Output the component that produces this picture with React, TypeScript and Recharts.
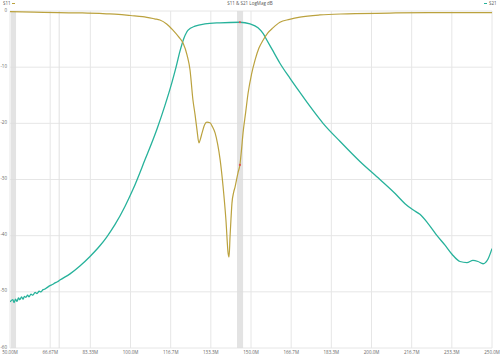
import React from "react";
import { LineChart, Line, XAxis, YAxis, CartesianGrid, ReferenceArea, ReferenceLine, ReferenceDot } from "recharts";

const xTicks = [50, 66.67, 83.33, 100, 116.67, 133.33, 150, 166.67, 183.33, 200, 216.67, 233.33, 250];
const xTickLabels = ["50.00M", "66.67M", "83.33M", "100.0M", "116.7M", "133.3M", "150.0M", "166.7M", "183.3M", "200.0M", "216.7M", "233.3M", "250.0M"];
const yTicks = [0, -10, -20, -30, -40, -50, -60];

const s11Freq = [50, 60, 70, 80, 90, 95, 100, 105, 110, 112.2, 115, 117.6, 120, 121.8, 123.5, 124.7, 125.9, 126.8, 127.6, 128.4, 129.0, 129.7, 130.7, 131.7, 133.0, 134.0, 135.1, 136.2, 137.2, 138.4, 139.6, 140.5, 140.9, 141.3, 141.7, 142.1, 142.8, 143.4, 144.6, 145.4, 146.0, 146.7, 147.8, 148.8, 150.2, 151.7, 153.3, 155.0, 157.0, 159.1, 162.0, 166.0, 170.3, 178.6, 190, 210, 230, 250];
const s11Db = [-0.1, -0.2, -0.3, -0.35, -0.5, -0.6, -0.8, -1.0, -1.4, -1.6, -2.3, -3.4, -4.6, -5.7, -7.9, -10.5, -15.8, -18.5, -21.2, -23.5, -22.8, -21.7, -20.3, -19.8, -19.9, -20.6, -21.7, -23.8, -26.5, -31.2, -37.2, -43.1, -43.8, -40.2, -37.0, -34.2, -32.3, -31.3, -28.8, -27.4, -25.0, -21.7, -18.0, -14.6, -11.3, -8.7, -6.6, -5.2, -3.9, -3.0, -2.0, -1.5, -1.1, -0.7, -0.5, -0.35, -0.3, -0.3];

const s21Freq = [50, 51.2, 51.7, 52.3, 52.9, 53.5, 54.1, 54.8, 55.4, 56.0, 56.6, 57.3, 57.9, 58.7, 59.5, 60.4, 61.2, 62.1, 62.9, 63.7, 64.5, 65.5, 66.6, 67.6, 68.7, 69.7, 70.7, 74.9, 79.0, 83.2, 87.3, 90.2, 93.6, 97.7, 101.0, 106.0, 111.0, 114.3, 117.2, 118.9, 120.5, 122.2, 123.9, 126.8, 130.9, 137.1, 145.4, 149.6, 152.9, 155.0, 156.6, 158.7, 162.0, 166.2, 170.3, 174.5, 179.9, 186.9, 195.2, 203.5, 209.8, 213.9, 217.2, 220.1, 223.4, 227.2, 230.5, 233.4, 236.7, 239.6, 242.1, 244.2, 246.3, 248.3, 250];
const s21Db = [-51.8, -51.4, -51.9, -51.3, -51.7, -51.1, -51.4, -50.9, -51.3, -50.8, -51.0, -50.6, -50.9, -50.4, -50.6, -50.1, -50.3, -49.9, -50.0, -49.6, -49.5, -49.2, -48.9, -48.7, -48.4, -48.2, -47.9, -46.8, -45.4, -43.7, -41.8, -40.2, -38.0, -34.8, -31.8, -26.5, -21.0, -16.8, -12.7, -10.0, -7.2, -4.8, -3.4, -2.7, -2.3, -2.1, -2.0, -2.3, -3.0, -4.0, -5.2, -6.8, -9.3, -12.0, -14.5, -17.0, -20.0, -23.2, -26.8, -30.0, -32.5, -34.3, -35.4, -36.2, -37.8, -40.0, -41.7, -43.3, -44.6, -44.8, -44.4, -44.6, -45.0, -44.2, -42.3];

const s11Data = s11Freq.map((f, i) => ({ f, v: s11Db[i] }));
const s21Data = s21Freq.map((f, i) => ({ f, v: s21Db[i] }));

const S11_COLOR = "#bba23e";
const S21_COLOR = "#27b29b";
const FONT = "'Open Sans', 'DejaVu Sans', sans-serif";

export default function App() {
  const tickStyle = { fontSize: 4.5, fill: "#666", fontFamily: FONT };
  return (
    <div style={{ position: "absolute", left: 0, top: 0, width: 500, height: 356, background: "#fff" }}>
      <LineChart width={500} height={356} margin={{ top: 11, right: 8, left: 0, bottom: 0 }}>
        <CartesianGrid stroke="#e6e6e6" strokeWidth={1} />
        <XAxis
          type="number"
          dataKey="f"
          domain={[50, 250]}
          ticks={xTicks}
          tickFormatter={(v: number) => xTickLabels[xTicks.indexOf(v)] ?? ""}
          height={8}
          tickSize={0}
          tickMargin={3}
          axisLine={false}
          tick={tickStyle}
          interval={0}
          allowDataOverflow
        />
        <YAxis
          type="number"
          domain={[-60, 0]}
          ticks={yTicks}
          width={10}
          tickSize={0}
          tickMargin={3}
          axisLine={false}
          tick={{ ...tickStyle, dy: -1 }}
          interval={0}
        />
        <ReferenceArea x1={50.4} x2={52.5} y1={-60} y2={0} fill="#dcdcdc" fillOpacity={0.8} stroke="none" />
        <ReferenceArea x1={144.2} x2={146.7} y1={-60} y2={0} fill="#dcdcdc" fillOpacity={0.8} stroke="none" />
        <ReferenceLine x={70.4} stroke="#e0e0e0" strokeWidth={1} />
        <Line data={s21Data} dataKey="v" type="monotone" stroke={S21_COLOR} strokeWidth={1.3} dot={false} isAnimationActive={false} />
        <Line data={s11Data} dataKey="v" type="monotone" stroke={S11_COLOR} strokeWidth={1.2} dot={false} isAnimationActive={false} />
        <ReferenceDot x={145.4} y={-27.4} r={1.1} fill="#e05050" stroke="none" />
        <ReferenceDot x={145.4} y={-2.0} r={1.1} fill="#e05050" stroke="none" />
      </LineChart>
      <div style={{ position: "absolute", left: 3, top: 0, fontSize: 4.5, color: "#555", fontFamily: FONT, lineHeight: "6px" }}>S11</div>
      <div style={{ position: "absolute", left: 12, top: 3, width: 3, height: 1, background: S11_COLOR }} />
      <div style={{ position: "absolute", left: 0, width: 500, top: 0, textAlign: "center", fontSize: 4.5, color: "#555", fontFamily: FONT, lineHeight: "6px" }}>S11 &amp; S21 LogMag dB</div>
      <div style={{ position: "absolute", left: 484, top: 3, width: 3, height: 1, background: S21_COLOR }} />
      <div style={{ position: "absolute", left: 489, top: 0, fontSize: 4.5, color: "#555", fontFamily: FONT, lineHeight: "6px" }}>S21</div>
    </div>
  );
}
